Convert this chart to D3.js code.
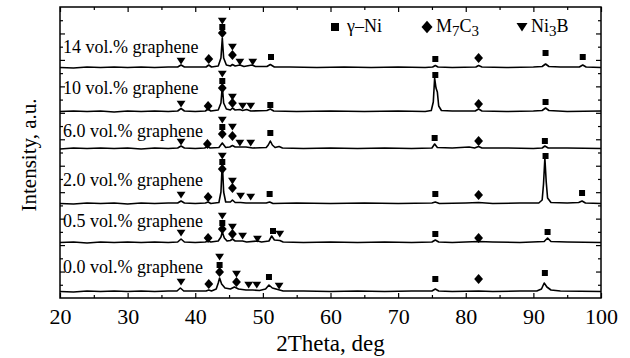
<!DOCTYPE html>
<html>
<head>
<meta charset="utf-8">
<script src="https://cdnjs.cloudflare.com/ajax/libs/d3/7.8.5/d3.min.js"></script>
<style>
	body { margin: 0; background: #fff; }
	text { font-family: 'Liberation Serif', 'Times New Roman', serif; fill: #000; }
</style>
</head>
<body>
<svg id="chart" width="630" height="358"></svg>
<script>
'use strict'

// XRD patterns, [2theta, intensity above own baseline]
const xrd14 = [[20,0.5],[22,0],[24,1],[26,0.5],[28,1],[30,0.5],[32,1],[34,0.5],[36,1],[37.4,1],[37.9,3],[38.4,1],[40,1],[41.6,1],[42.0,3],[42.4,1],[43.4,2],[43.8,10],[44.0,30],[44.2,10],[44.6,3],[45.2,2],[45.5,3.5],[45.9,2],[46.6,3],[47.2,1.5],[48.4,3],[48.9,1.5],[50.6,1.5],[51.1,3.5],[51.7,1],[54,1],[58,0.5],[62,1],[66,0.5],[70,1],[74,0.5],[75.1,1],[75.5,2.5],[75.9,1],[78,0.5],[81.5,1],[81.9,2.5],[82.4,1],[86,0.5],[90,1],[91.3,1.5],[91.8,4],[92.3,1.5],[94,1],[96.8,1],[97.3,3],[97.8,1],[100,0.5]];
const xrd10 = [[20,0.5],[22,1],[24,0.5],[26,1],[28,0],[30,1],[32,0.5],[34,1],[36,0.5],[37.4,1],[37.9,3.5],[38.4,1],[40,0.5],[41.5,1],[41.9,3],[42.3,1],[43.4,2],[43.8,9],[44.0,26],[44.2,9],[44.6,3],[45.2,2],[45.5,4],[45.9,2],[46.6,2.5],[47.0,1.5],[47.6,2.5],[48.2,1],[50.6,1.5],[51.1,3],[51.6,1],[55,0.5],[60,1],[65,0.5],[70,1],[74,0.5],[74.9,1.5],[75.2,10],[75.4,34],[75.6,24],[75.8,20],[76.0,6],[76.4,1.5],[78,1],[81.4,1],[81.9,3],[82.4,1],[86,0.5],[90,1],[91.3,1.5],[91.8,4],[92.3,1.5],[95,0.5],[100,1]];
const xrd60 = [[20,0],[22,1],[24,0.5],[26,1],[28,0.5],[30,1],[32,0],[34,1],[36,0.5],[37.4,1],[37.9,3],[38.4,1],[40,0.5],[41.4,1],[41.8,2.5],[42.2,1],[43.5,1.5],[44.0,6],[44.5,1.5],[45.1,2],[45.5,3.5],[45.9,2],[46.6,2],[47.5,2],[48.5,1],[50.5,1.5],[50.8,4],[51.1,8],[51.4,4],[51.8,1.5],[52.4,2.5],[52.9,1],[56,0.5],[60,1],[64,0.5],[68,1],[72,0.5],[75.0,1],[75.4,5],[75.8,1.5],[78,1],[80.5,2],[81.3,1],[81.9,2.5],[82.4,1],[86,1],[90,0.5],[91.3,1],[91.7,3],[92.2,1],[95,1],[100,0.5]];
const xrd20 = [[20,0.5],[22,0],[24,1],[26,0.5],[28,1],[30,0],[32,1],[34,0.5],[36,1],[37.4,1],[37.9,3],[38.4,1],[40,0.5],[41.5,1],[41.9,2],[42.3,0.5],[43.5,1.5],[43.8,12],[44.0,42],[44.2,12],[44.5,2],[45.2,2],[45.5,4],[45.9,1.5],[46.7,1.5],[47.5,1],[50.5,1],[51.0,2],[51.5,0.5],[55,1],[60,0.5],[65,1],[70,0.5],[75,1],[75.5,2],[76.1,0.5],[80,1],[81.9,1.5],[84,0.5],[88,1],[90.8,1],[91.3,4],[91.5,20],[91.7,46],[91.9,22],[92.1,6],[92.6,1.5],[95,1],[96.7,1.5],[97.2,3],[97.7,1],[100,0.5]];
const xrd05 = [[20,0.5],[22,1],[24,0],[26,1],[28,0.5],[30,1],[32,0.5],[34,1],[36,0.5],[37.4,1],[37.9,4],[38.4,1],[40,0.5],[41.5,1],[41.9,2],[42.3,1],[43.4,2],[43.8,6],[44.0,11],[44.3,5],[44.7,2],[45.2,2.5],[45.5,4],[45.9,2],[47.0,2],[47.6,1],[49.2,2],[49.8,1],[50.9,2],[51.3,7],[51.7,3],[52.5,2.5],[53,1],[56,0.5],[60,1],[64,0.5],[68,1],[72,0.5],[75.0,1],[75.5,3],[76.0,1],[78,0.5],[81.9,1.5],[84,1],[88,0.5],[91.6,1.5],[92.1,5],[92.6,1.5],[95,1],[100,0.5]];
const xrd00 = [[20,0.5],[22,0],[24,1],[26,0.5],[28,1],[30,0.5],[32,1],[34,0.5],[36,1],[37.3,1],[37.8,4],[38.3,1],[40,1],[41.6,1],[42.0,2],[42.4,1],[43.1,3],[43.4,9],[43.6,14],[43.9,8],[44.4,4],[45.2,3],[45.8,5],[46.4,3],[47.5,2],[48.5,2],[49.5,1.5],[50.4,3],[50.9,7],[51.4,4],[52.2,2.5],[53,1],[56,1],[60,0.5],[64,1],[68,0.5],[72,1],[75.0,1],[75.5,3],[76.0,1],[78,0.5],[81.9,1],[84,0.5],[88,1],[90.5,1],[91.2,3],[91.6,9],[92.0,5],[92.6,2],[94,1],[100,0.5]];

// phase markers, [2theta, phase, height above baseline]
const mark14 = [[37.9,'t',7],[42.0,'d',9],[44.0,'t',47],[44.0,'s',41],[44.0,'d',35],[45.5,'t',21],[45.5,'d',13],[46.6,'t',6],[48.5,'t',6],[51.2,'s',11],[75.5,'s',9],[81.9,'d',10],[91.8,'s',15],[97.3,'s',11]];
const mark10 = [[37.9,'t',8],[41.9,'d',6],[44.0,'t',38],[44.0,'s',31],[44.0,'d',24],[45.5,'t',15],[45.5,'d',9],[47.0,'t',6],[48.2,'t',6],[51.1,'s',7],[75.5,'s',37],[81.9,'d',8],[91.8,'s',10]];
const mark60 = [[37.9,'t',7],[41.8,'d',5],[44.0,'t',29],[44.0,'s',22],[44.0,'d',15],[45.5,'t',22],[45.5,'d',13],[46.6,'t',6],[48.2,'t',6],[51.1,'s',16],[75.4,'s',11],[81.9,'d',8],[91.7,'s',8]];
const mark20 = [[37.9,'t',9],[41.9,'d',7],[44.0,'t',48],[44.0,'s',42],[44.0,'d',35],[45.5,'t',23],[45.5,'d',16],[46.7,'t',8],[48.2,'t',7],[51.0,'s',10],[75.5,'s',10],[81.9,'d',9],[91.8,'s',48],[97.2,'s',11]];
const mark05 = [[37.9,'t',10],[41.9,'d',5],[44.0,'t',27],[44.0,'s',20],[44.0,'d',14],[45.5,'t',16],[45.5,'d',9],[47.0,'t',7],[49.2,'t',4],[51.5,'s',12],[52.5,'t',9],[75.5,'s',9],[81.9,'d',5],[92.1,'s',11]];
const mark00 = [[37.9,'t',10],[42.0,'d',8],[43.6,'t',35],[43.6,'s',27],[43.6,'d',20],[46.1,'t',18],[46.1,'d',10],[47.9,'t',7],[49.1,'t',7],[50.9,'s',15],[52.4,'t',6],[75.5,'s',13],[81.9,'d',13],[91.7,'s',19]];

const SERIES_LABELS = ['14 vol.% graphene', '10 vol.% graphene', '6.0 vol.% graphene', '2.0 vol.% graphene', '0.5 vol.% graphene', '0.0 vol.% graphene'];
const SERIES_OFFSETS = [230, 186, 149, 94, 55, 6];
const SERIES_CURVES = [xrd14, xrd10, xrd60, xrd20, xrd05, xrd00];
const SERIES_MARKS = [mark14, mark10, mark60, mark20, mark05, mark00];
const LABEL_LIFT = [15, 18, 12, 18, 16, 19];

const X_TICKS = [20, 30, 40, 50, 60, 70, 80, 90, 100];
const X_MINOR = [25, 35, 45, 55, 65, 75, 85, 95];

const LEGEND = [
	{ 'key' : 's', 'name' : ['γ–Ni'] },
	{ 'key' : 'd', 'name' : ['M', '7', 'C', '3'] },
	{ 'key' : 't', 'name' : ['Ni', '3', 'B'] }
];

var plotLeft = 60, plotRight = 601, plotTop = 7, plotBottom = 298;

var svg = d3.select('#chart');

var x = d3.scaleLinear()
	.domain([20, 100])
	.range([plotLeft, plotRight]);

var y = d3.scaleLinear()
	.domain([0, 291])
	.range([plotBottom, plotTop]);

// frame tick scale
var yFrame = d3.scaleLinear()
	.domain([0, 11])
	.range([plotBottom, plotTop]);

function markPath(type, s) {
	var p = d3.path();
	if (type == 's') {
		p.rect(-s / 2, -s / 2, s, s);
	} else if (type == 'd') {
		p.moveTo(0, -s * 0.62);
		p.lineTo(s * 0.55, 0);
		p.lineTo(0, s * 0.62);
		p.lineTo(-s * 0.55, 0);
		p.closePath();
	} else {
		p.moveTo(-s * 0.55, -s * 0.4);
		p.lineTo(s * 0.55, -s * 0.4);
		p.lineTo(0, s * 0.45);
		p.closePath();
	}
	return p.toString();
}

var line = d3.line()
	.x(function(d) { return x(d[0]); });

var series = svg.selectAll('.series')
	.data(SERIES_CURVES)
	.enter()
	.append('g')
	.attr('class', 'series');

series.append('path')
	.attr('d', function(d, i) {
		return line.y(function(p) { return y(p[1] + SERIES_OFFSETS[i]); })(d);
	})
	.attr('fill', 'none')
	.attr('stroke', '#000')
	.attr('stroke-width', 1.6)
	.attr('stroke-linejoin', 'round');

series.each(function(d, i) {
	d3.select(this)
		.selectAll('.mark')
		.data(SERIES_MARKS[i])
		.enter()
		.append('path')
		.attr('class', 'mark')
		.attr('d', function(m) { return markPath(m[1], m[1] == 's' ? 6 : 8); })
		.attr('transform', function(m) {
			return 'translate(' + x(m[0]) + ',' + y(m[2] + SERIES_OFFSETS[i]) + ')';
		})
		.attr('fill', '#000');
});

series.append('text')
	.attr('x', 63)
	.attr('y', function(d, i) { return y(SERIES_OFFSETS[i] + LABEL_LIFT[i]); })
	.style('font-size', '18px')
	.text(function(d, i) { return SERIES_LABELS[i]; });

// legend
var legendX = [335, 427, 522];
var legend = svg.selectAll('.legend')
	.data(LEGEND)
	.enter()
	.append('g')
	.attr('class', 'legend')
	.attr('transform', function(d, i) { return 'translate(' + legendX[i] + ',27)'; });

legend.append('path')
	.attr('d', function(d) { return markPath(d.key, d.key == 's' ? 8 : 10); })
	.attr('fill', '#000');

var legendText = legend.append('text')
	.attr('x', function(d) { return d.key == 's' ? 12 : 9; })
	.attr('y', 5)
	.style('font-size', '18px');

legendText.selectAll('tspan')
	.data(function(d) { return d.name; })
	.enter()
	.append('tspan')
	.attr('dy', function(d, i) { return i == 0 ? 0 : (i % 2 == 1 ? 4 : -4); })
	.style('font-size', function(d, i) { return i % 2 == 1 ? '15px' : '18px'; })
	.text(function(d) { return d; });

// axes, ticks pointing inward
function drawAxis(axis, transform, values, size, labels) {
	var g = svg.append('g')
		.attr('transform', transform)
		.call(axis.tickValues(values)
			.tickSizeInner(-size)
			.tickSizeOuter(0)
			.tickPadding(10)
			.tickFormat(labels ? d3.format('d') : ''));
	g.select('.domain').remove();
	g.selectAll('line').attr('stroke', '#000').attr('stroke-width', 1.2);
	g.selectAll('text')
		.style('font-family', "'Liberation Serif', 'Times New Roman', serif")
		.style('font-size', '22px')
		.attr('fill', '#000');
	return g;
}

drawAxis(d3.axisBottom(x), 'translate(0,' + plotBottom + ')', X_TICKS, 5, true);
drawAxis(d3.axisBottom(x), 'translate(0,' + plotBottom + ')', X_MINOR, 3, false);
drawAxis(d3.axisTop(x), 'translate(0,' + plotTop + ')', X_TICKS, 5, false);
drawAxis(d3.axisTop(x), 'translate(0,' + plotTop + ')', X_MINOR, 3, false);

var yMajor = d3.range(1, 11);
var yMinor = d3.range(0.5, 11, 1);
drawAxis(d3.axisLeft(yFrame), 'translate(' + plotLeft + ',0)', yMajor, 5, false);
drawAxis(d3.axisLeft(yFrame), 'translate(' + plotLeft + ',0)', yMinor, 3, false);
drawAxis(d3.axisRight(yFrame), 'translate(' + plotRight + ',0)', yMajor, 5, false);
drawAxis(d3.axisRight(yFrame), 'translate(' + plotRight + ',0)', yMinor, 3, false);

svg.append('rect')
	.attr('x', plotLeft)
	.attr('y', plotTop)
	.attr('width', plotRight - plotLeft)
	.attr('height', plotBottom - plotTop)
	.attr('fill', 'none')
	.attr('stroke', '#000')
	.attr('stroke-width', 1.5);

svg.append('text')
	.attr('x', (plotLeft + plotRight) / 2)
	.attr('y', 351)
	.attr('text-anchor', 'middle')
	.style('font-size', '23px')
	.text('2Theta, deg');

svg.append('text')
	.attr('transform', 'translate(36,155) rotate(-90)')
	.attr('text-anchor', 'middle')
	.style('font-size', '21px')
	.text('Intensity, a.u.');
</script>
</body>
</html>
